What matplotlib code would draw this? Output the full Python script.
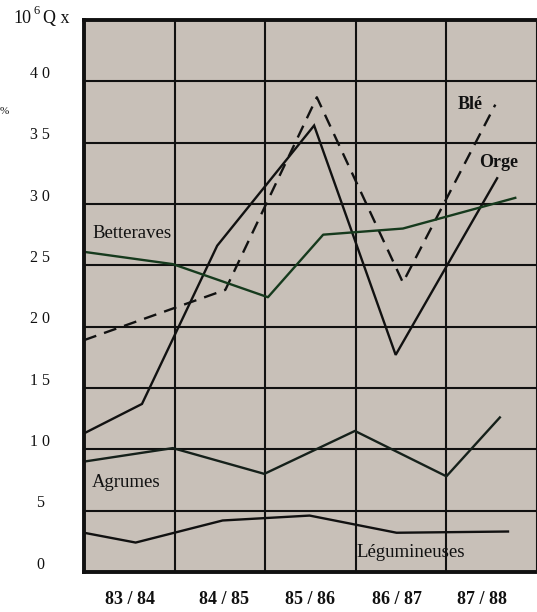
import numpy as np
import matplotlib
matplotlib.use("Agg")
import matplotlib.pyplot as plt
from matplotlib.transforms import blended_transform_factory

plt.rcParams['font.family'] = ['Liberation Serif', 'DejaVu Serif']

# ---- data (x in column units: gridlines at 0..5, categories centred in columns) ----
categories = ["83 / 84", "84 / 85", "85 / 86", "86 / 87", "87 / 88"]
y_ticks = [0, 5, 10, 15, 20, 25, 30, 35, 40]

orge_x = [0.0, 0.64, 1.47, 2.54, 3.44, 4.56]
orge_y = [11.3, 13.7, 26.6, 36.4, 17.7, 32.1]

ble_x = [0.0, 1.56, 2.57, 3.52, 4.54]
ble_y = [18.9, 23.0, 38.7, 23.6, 38.1]

betteraves_x = [0.0, 0.98, 2.03, 2.64, 3.52, 4.76]
betteraves_y = [26.1, 25.1, 22.4, 27.5, 28.0, 30.5]

agrumes_x = [0.0, 0.98, 1.99, 2.99, 4.0, 4.59]
agrumes_y = [9.0, 10.1, 8.0, 11.5, 7.8, 12.6]

legum_x = [0.0, 0.57, 1.53, 2.49, 3.45, 4.68]
legum_y = [3.2, 2.4, 4.2, 4.6, 3.2, 3.3]

# ---- figure ----
W, H = 537, 612
fig = plt.figure(figsize=(W / 100, H / 100), dpi=100)
fig.patch.set_facecolor("white")
ax = fig.add_axes([84 / W, 40 / H, 453 / W, 552 / H])
ax.set_facecolor("#c8c0b8")
ax.set_xlim(0, 5)
ax.set_ylim(0, 45)

# grid
ax.set_xticks(np.arange(0, 6))
ax.set_xticklabels([])
ax.set_yticks(np.arange(0, 50, 5))
ax.set_yticklabels([])
ax.grid(True, color="#111111", linewidth=1.5)
ax.set_axisbelow(True)
ax.tick_params(which="both", length=0)

label_pos = [0.51, 1.55, 2.49, 3.45, 4.39]
ax.set_xticks(label_pos, minor=True)
ax.set_xticklabels(categories, minor=True, fontsize=13, fontweight="bold", color="#111111")
ax.tick_params(axis="x", which="minor", pad=14)

for side in ["left", "top", "bottom"]:
    ax.spines[side].set_linewidth(2.8)
    ax.spines[side].set_color("#111111")
ax.spines["right"].set_visible(False)

# y tick labels (centred, slightly above gridlines)
trans = blended_transform_factory(ax.transAxes, ax.transData)
for v in y_ticks:
    ax.text(-44 / 453, v + 0.6, " ".join(str(v)), transform=trans,
            ha="center", va="center", fontsize=11.5, color="#111111")

# series
lw = 1.7
ax.plot(orge_x, orge_y, color="#111111", lw=lw, solid_joinstyle="miter")
ax.plot(ble_x, ble_y, color="#111111", lw=lw, linestyle=(0, (5.5, 3.5)))
ax.plot(betteraves_x, betteraves_y, color="#163a1d", lw=lw)
ax.plot(agrumes_x, agrumes_y, color="#15201a", lw=lw)
ax.plot(legum_x, legum_y, color="#111111", lw=lw)

# series labels
fs = 13.5
ax.text(0.088, 27.6, "Betteraves", fontsize=fs, va="center", ha="left", color="#111111")
ax.text(0.088, 7.3, "Agrumes", fontsize=fs, va="center", ha="left", color="#111111")
ax.text(3.01, 1.63, "Légumineuses", fontsize=fs, va="center", ha="left", color="#111111")
ax.text(4.12, 38.1, "Blé", fontsize=13, va="center", ha="left", color="#111111", fontweight="semibold")
ax.text(4.36, 33.4, "Orge", fontsize=13, va="center", ha="left", color="#111111", fontweight="semibold")

# unit label
def fx(px):
    return px / W

def fy(py):
    return 1 - py / H

fig.text(fx(13), fy(23), "10", fontsize=13, va="baseline", ha="left", color="#111111")
fig.text(fx(33), fy(14), "6", fontsize=9, va="baseline", ha="left", color="#111111")
fig.text(fx(43), fy(23), "Q x", fontsize=13, va="baseline", ha="left", color="#111111")
fig.text(fx(0), fy(112), "%", fontsize=8, va="center", ha="left", color="#111111")

fig.savefig("out.png", dpi=100)
